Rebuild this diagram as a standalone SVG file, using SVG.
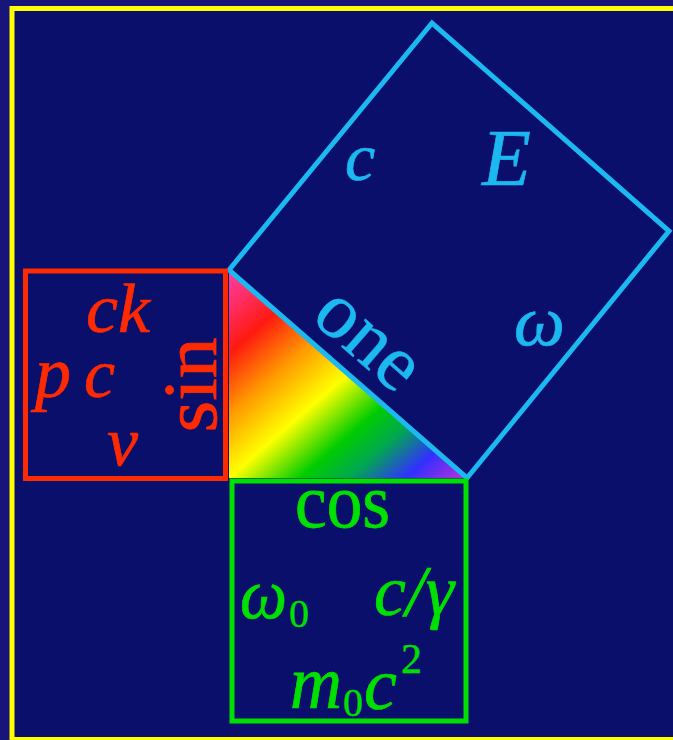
<svg xmlns="http://www.w3.org/2000/svg" width="673" height="740" viewBox="0 0 673 740" font-family="Liberation Serif, Times New Roman, serif">
<defs>
<linearGradient id="rainbow" x1="0" y1="0" x2="1" y2="1">
<stop offset="0" stop-color="#ff3ca0"/>
<stop offset="0.08" stop-color="#ff3070"/>
<stop offset="0.2" stop-color="#ff1a10"/>
<stop offset="0.35" stop-color="#ff9a00"/>
<stop offset="0.5" stop-color="#ffff00"/>
<stop offset="0.65" stop-color="#00cc00"/>
<stop offset="0.75" stop-color="#00a850"/>
<stop offset="0.87" stop-color="#3030ff"/>
<stop offset="1" stop-color="#c030d8"/>
</linearGradient>
<style>
.m{font-style:italic;stroke-width:0.7}
.r{stroke-width:0.4}
.w{stroke-width:0.8}
.sq{fill:none;stroke-width:5;stroke-linejoin:miter}
.red{fill:#ff2a00;stroke:#ff2a00}
.blue{fill:#1cb8f0;stroke:#1cb8f0}
.green{fill:#00e000;stroke:#00e000}
</style>
</defs>
<rect x="0" y="0" width="673" height="740" fill="#17157a"/>
<g id="frame">
<rect x="12" y="8.5" width="720" height="731" fill="#0b0f6c" stroke="#ffff00" stroke-width="5"/>
</g>
<g id="triangle">
<polygon points="229,270 229,478 467,478" fill="url(#rainbow)"/>
</g>
<g id="square-one">
<polygon class="sq" points="229,270 432,23 669,231 467,478" stroke="#1cb8f0"/>
<text class="m blue" font-family="Liberation Serif" x="345" y="180" font-size="68">c</text>
<text class="m blue" font-family="Liberation Serif" x="482" y="185" font-size="80">E</text>
<text class="m blue" font-family="Liberation Serif" x="514" y="345" font-size="72">ω</text>
<text class="r blue" font-family="Liberation Serif" font-size="80" text-anchor="middle" transform="translate(353,357) rotate(41.15)">one</text>
</g>
<g id="square-sin">
<rect class="sq" x="25.5" y="271" width="200" height="207.5" stroke="#ff2a00"/>
<text class="m red" font-family="Liberation Serif" x="86" y="332" font-size="70" textLength="64" lengthAdjust="spacingAndGlyphs">ck</text>
<text class="m red" font-family="Liberation Serif" x="35" y="397" font-size="72">p</text>
<text class="m red" font-family="Liberation Serif" x="84" y="397" font-size="70">c</text>
<text class="m red" font-family="Liberation Serif" x="107" y="465" font-size="70">v</text>
<text class="w red" font-family="Liberation Serif" font-size="76" text-anchor="middle" textLength="95" lengthAdjust="spacingAndGlyphs" transform="translate(216,385) rotate(-90)">sin</text>
</g>
<g id="square-cos">
<rect class="sq" x="232" y="481" width="234" height="240" stroke="#00e000"/>
<text class="w green" font-family="Liberation Serif" x="342.5" y="527" font-size="76" text-anchor="middle" textLength="95" lengthAdjust="spacingAndGlyphs">cos</text>
<text class="m green" font-family="Liberation Serif" x="240" y="618" font-size="72" textLength="47" lengthAdjust="spacingAndGlyphs">ω</text>
<text class="r green" font-family="Liberation Serif" x="289" y="627" font-size="40">0</text>
<text class="m green" font-family="Liberation Serif" x="374" y="615" font-size="72" textLength="80" lengthAdjust="spacingAndGlyphs">c/γ</text>
<text class="m green" font-family="Liberation Serif" x="290" y="708" font-size="76" textLength="52" lengthAdjust="spacingAndGlyphs">m</text>
<text class="r green" font-family="Liberation Serif" x="343" y="716" font-size="40">0</text>
<text class="m green" font-family="Liberation Serif" x="364" y="709" font-size="74">c</text>
<text class="r green" font-family="Liberation Serif" x="401" y="673" font-size="42">2</text>
</g>
<g id="connectors"/>
</svg>
